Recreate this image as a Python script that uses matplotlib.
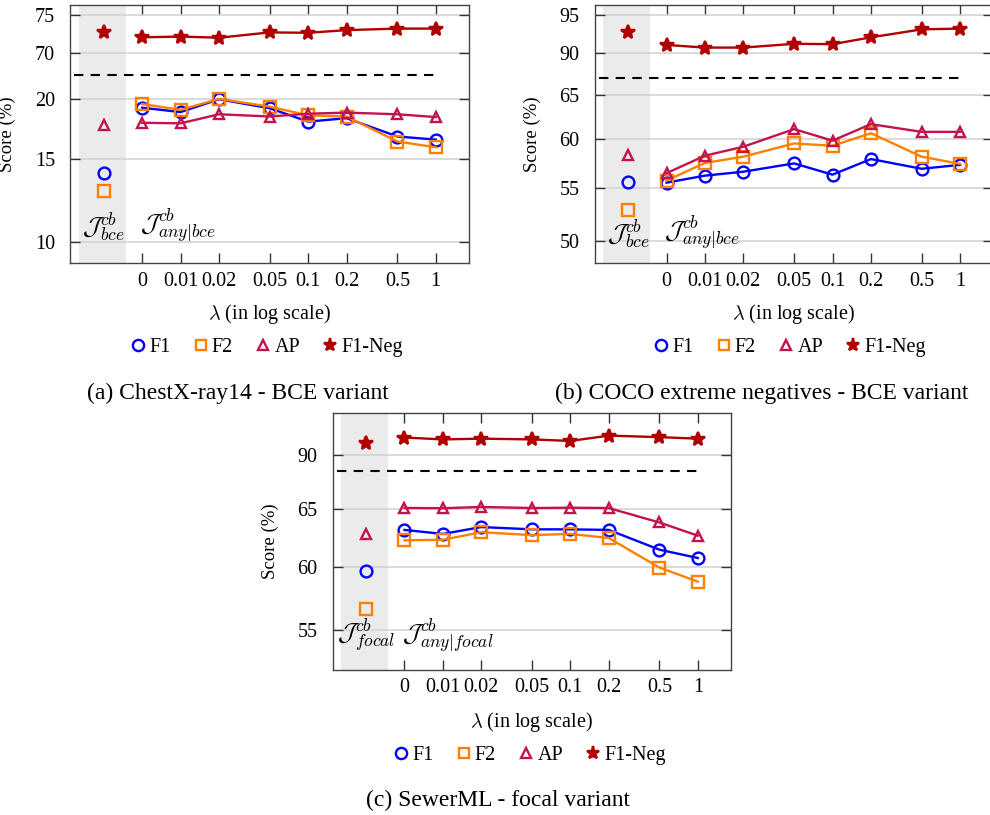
import numpy as np
import matplotlib
matplotlib.use('Agg')
import matplotlib.pyplot as plt
from matplotlib.lines import Line2D
import matplotlib.transforms as mtransforms

plt.rcParams['font.family'] = ['Liberation Serif', 'DejaVu Serif']
plt.rcParams['mathtext.fontset'] = 'cm'

# lambda values (0 is put one log step left of 0.01), baseline column further left
lam_labels = ['0', '0.01', '0.02', '0.05', '0.1', '0.2', '0.5', '1']
lam_pos = [0.005, 0.01, 0.02, 0.05, 0.1, 0.2, 0.5, 1.0]
base_pos = 0.0025

# (a) ChestX-ray14 - BCE
chest_f1 = [19.2, 18.8, 20.05, 19.15, 17.95, 18.25, 16.7, 16.45]
chest_f2 = [19.55, 19.0, 20.45, 19.3, 18.5, 18.4, 16.3, 15.85]
chest_ap = [17.85, 17.8, 18.6, 18.4, 18.65, 18.75, 18.6, 18.35]
chest_neg = [72.1, 72.2, 72.05, 72.75, 72.7, 73.05, 73.25, 73.25]
chest_base = {'F1': 14.0, 'F2': 12.8, 'AP': 17.7, 'F1-Neg': 72.85}

# (b) COCO extreme negatives - BCE
coco_f1 = [55.5, 56.2, 56.6, 57.45, 56.3, 57.9, 56.9, 57.3]
coco_f2 = [55.7, 57.5, 58.15, 59.55, 59.3, 60.65, 58.15, 57.4]
coco_ap = [56.45, 58.25, 59.2, 61.1, 59.85, 61.65, 60.8, 60.8]
coco_neg = [91.1, 90.75, 90.75, 91.25, 91.2, 92.1, 93.15, 93.25]
coco_base = {'F1': 55.6, 'F2': 52.8, 'AP': 58.3, 'F1-Neg': 92.75}

# (c) SewerML - focal
sewer_f1 = [63.15, 62.8, 63.4, 63.2, 63.2, 63.15, 61.45, 60.75]
sewer_f2 = [62.25, 62.3, 62.95, 62.7, 62.8, 62.45, 59.95, 58.8]
sewer_ap = [65.5, 65.35, 65.95, 65.45, 65.6, 65.45, 63.8, 62.65]
sewer_neg = [92.3, 92.05, 92.15, 92.05, 91.85, 92.55, 92.35, 92.15]
sewer_base = {'F1': 59.7, 'F2': 56.6, 'AP': 62.8, 'F1-Neg': 91.6}

colors = {'F1': '#0000ff', 'F2': '#ff8000', 'AP': '#c4124f', 'F1-Neg': '#b00000'}
markers = {'F1': ('o', 8.5, 'none'), 'F2': ('s', 8, 'none'),
           'AP': ('^', 7.5, 'none'), 'F1-Neg': ('*', 10, 'fill')}

W, H = 990, 815
fig = plt.figure(figsize=(W / 100, H / 100), dpi=100)


def broken_scale(v0, p0, v1, p1, u0, q0, k_up):
    # lower part log, upper part linear, linear bridge in between (pixels of reference)
    r = np.log(v1 / v0)

    def fwd(v):
        v = np.asarray(v, dtype=float)
        lo = -p0 + (p0 - p1) * np.log(np.clip(v, 1e-6, None) / v0) / r
        mid = -p1 + (v - v1) / (u0 - v1) * (p1 - q0)
        up = -q0 + (v - u0) * k_up
        return np.where(v <= v1, lo, np.where(v < u0, mid, up))

    def inv(h):
        p = -np.asarray(h, dtype=float)
        lo = v0 * np.exp(np.clip((p0 - p) / (p0 - p1) * r, -50, 50))
        mid = v1 + (p1 - p) / (p1 - q0) * (u0 - v1)
        up = u0 + (q0 - p) / k_up
        return np.where(p >= p1, lo, np.where(p > q0, mid, up))
    return fwd, inv


def panel(box, scale, yticks, series, base, dash_y, lab_y, sub, caption, cap_xy, leg_xy, xlab_y):
    left, right, top, bottom = box
    ax = fig.add_axes([left / W, 1 - bottom / H, (right - left) / W, (bottom - top) / H])
    fwd, inv = broken_scale(*scale)
    ax.set_yscale('function', functions=(fwd, inv))
    ax.set_xscale('log')
    ax.set_ylim(float(inv(-bottom)), float(inv(-top)))
    xl = base_pos * 10 ** -0.262
    xr = 1.0 * 10 ** 0.258
    ax.set_xlim(xl, xr)

    ax.axvspan(base_pos * 10 ** -0.196, base_pos * 10 ** 0.172, color='#ebebeb', zorder=0, lw=0)
    ax.set_yticks(yticks)
    ax.set_yticklabels([str(t) for t in yticks])
    ax.yaxis.grid(True, color='#d4d4d4', lw=1.2, zorder=0.5)
    ax.set_axisbelow(True)
    ax.set_xticks(lam_pos)
    ax.set_xticklabels(lam_labels)
    ax.minorticks_off()
    ax.tick_params(direction='in', length=7, width=1, colors='#333333', labelcolor='black',
                   top=True, right=True, labelsize=14.5)
    ax.tick_params(axis='y', pad=11)
    ax.tick_params(axis='x', pad=6)
    for s in ax.spines.values():
        s.set_color('#444444')
        s.set_linewidth(1)

    for name, vals in series.items():
        m, ms, fill = markers[name]
        c = colors[name]
        fc = c if fill == 'fill' else 'none'
        ax.plot(lam_pos, vals, color=c, lw=1.7, marker=m, ms=ms, mfc=fc, mec=c, mew=1.7, zorder=3)
        ax.plot([base_pos], [base[name]], ls='none', marker=m, ms=ms, mfc=fc, mec=c, mew=1.7, zorder=3)

    trans = mtransforms.blended_transform_factory(ax.transData, ax.transAxes)
    ax.plot([base_pos * 10 ** -0.23, 1.0], [dash_y, dash_y], transform=trans, color='black',
            lw=1.5, dashes=(4.5, 3.5), zorder=2)
    ax.text(base_pos, lab_y, r'$\mathcal{J}^{cb}_{%s}$' % sub, transform=trans,
            ha='center', va='bottom', fontsize=18)
    ax.text(0.0048, lab_y, r'$\mathcal{J}^{cb}_{any|%s}$' % sub, transform=trans,
            ha='left', va='bottom', fontsize=18)

    ax.set_ylabel('Score (%)', fontsize=13.5)
    ax.yaxis.set_label_coords(-0.136, 0.5)
    ax.set_xlabel(r'$\lambda$ (in log scale)', fontsize=14.5)
    ax.xaxis.set_label_coords(0.5, -(xlab_y - 9 - bottom) / (bottom - top), transform=ax.transAxes)

    handles = []
    for name in ['F1', 'F2', 'AP', 'F1-Neg']:
        m, ms, fill = markers[name]
        c = colors[name]
        handles.append(Line2D([], [], ls='none', marker=m, ms=ms * 0.95, mec=c, mew=1.7,
                              mfc=c if fill == 'fill' else 'none', label=name))
    ax.legend(handles=handles, ncol=4, loc='center', frameon=False, fontsize=14.5,
              bbox_to_anchor=(leg_xy[0] / W, 1 - leg_xy[1] / H), bbox_transform=fig.transFigure,
              handlelength=0.7, handletextpad=0.2, columnspacing=1.15, borderpad=0)
    fig.text(cap_xy[0] / W, 1 - cap_xy[1] / H, caption, ha='center', va='center', fontsize=17)
    return ax


panel((70.3, 468.7, 4.7, 263.3), (10, 242.3, 20, 99.3, 70, 53.3, 7.6), [10, 15, 20, 70, 75],
      {'F1': chest_f1, 'F2': chest_f2, 'AP': chest_ap, 'F1-Neg': chest_neg}, chest_base,
      0.728, 0.072, 'bce', '(a) ChestX-ray14 - BCE variant', (237.7, 393), (267, 347), 311)

panel((594.7, 993, 4.7, 263.3), (50, 240.7, 65, 94.7, 90, 53.3, 7.6), [50, 55, 60, 65, 90, 95],
      {'F1': coco_f1, 'F2': coco_f2, 'AP': coco_ap, 'F1-Neg': coco_neg}, coco_base,
      0.718, 0.045, 'bce', '(b) COCO extreme negatives - BCE variant', (761.7, 393), (790, 347), 311)

panel((332.7, 730.7, 412.7, 670), (55, 630, 65, 509, 90, 455, 7.6), [55, 60, 65, 90],
      {'F1': sewer_f1, 'F2': sewer_f2, 'AP': sewer_ap, 'F1-Neg': sewer_neg}, sewer_base,
      0.773, 0.058, 'focal', '(c) SewerML - focal variant', (498, 800), (530, 755), 719.3)

fig.savefig('out.png', dpi=100)
